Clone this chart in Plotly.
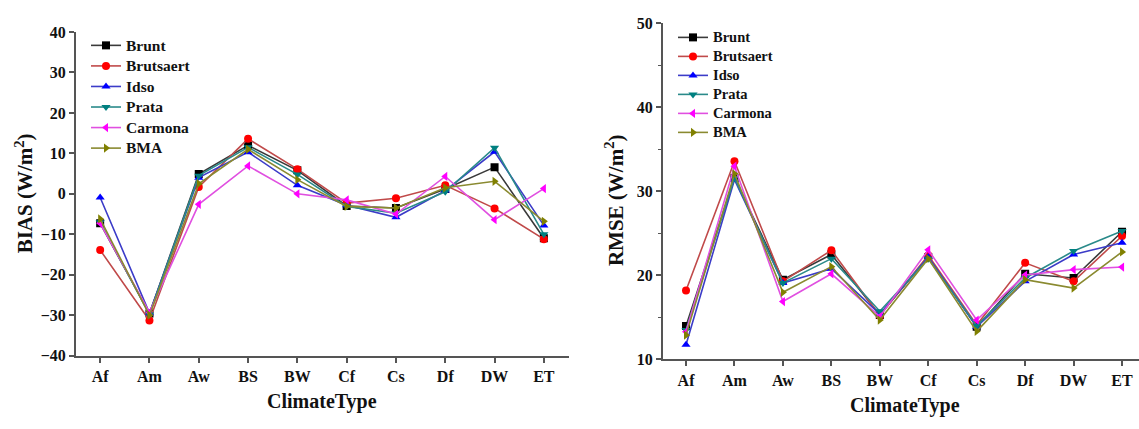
import plotly.graph_objects as go

categories = ["Af", "Am", "Aw", "BS", "BW", "Cf", "Cs", "Df", "DW", "ET"]
series_names = ["Brunt", "Brutsaert", "Idso", "Prata", "Carmona", "BMA"]

bias_brunt = [-7.3, -29.6, 4.9, 12.0, 5.8, -3.0, -3.5, 1.2, 6.6, -11.0]
bias_brutsaert = [-13.9, -31.3, 1.7, 13.6, 6.1, -2.3, -1.1, 2.1, -3.6, -11.2]
bias_idso = [-0.9, -29.5, 4.0, 10.3, 2.1, -2.8, -5.8, 0.8, 10.4, -7.8]
bias_prata = [-7.0, -29.8, 4.5, 11.5, 4.8, -3.1, -4.8, 0.5, 11.4, -10.0]
bias_carmona = [-7.3, -29.3, -2.6, 6.9, 0.0, -1.5, -5.0, 4.3, -6.4, 1.3]
bias_bma = [-6.2, -30.0, 2.5, 11.0, 3.5, -3.1, -3.5, 1.5, 3.1, -6.8]

rmse_brunt = [14.0, 31.6, 19.5, 22.5, 15.3, 22.2, 13.9, 20.2, 19.7, 25.2]
rmse_brutsaert = [18.2, 33.6, 19.3, 23.0, 15.2, 22.4, 14.1, 21.5, 19.3, 24.7]
rmse_idso = [11.75, 31.4, 19.1, 20.8, 15.4, 22.2, 13.9, 19.3, 22.5, 23.9]
rmse_prata = [13.5, 31.6, 19.1, 22.0, 15.75, 22.0, 14.0, 19.7, 22.9, 25.3]
rmse_carmona = [13.3, 33.0, 16.9, 20.2, 15.1, 23.05, 14.7, 20.05, 20.7, 21.0]
rmse_bma = [12.9, 32.1, 18.0, 21.05, 14.7, 22.0, 13.35, 19.5, 18.5, 22.8]

bias_ticks = [-40, -30, -20, -10, 0, 10, 20, 30, 40]
rmse_ticks = [10, 20, 30, 40, 50]

bias_data = [bias_brunt, bias_brutsaert, bias_idso, bias_prata, bias_carmona, bias_bma]
rmse_data = [rmse_brunt, rmse_brutsaert, rmse_idso, rmse_prata, rmse_carmona, rmse_bma]

marker_colors = ["#000000", "#ff0000", "#0000ff", "#008080", "#ff00ff", "#808000"]
line_colors = ["#3a3a3a", "#c04a4a", "#3c3cc8", "#2a8a8a", "#e050e0", "#8a8a30"]
symbols = ["square", "circle", "triangle-up", "triangle-down", "triangle-left", "triangle-right"]

FONT = "Liberation Serif"
AX = "#555555"


def legend_label(name, px):
    return '<span style="font-size:%spx">%s</span>' % (px, name)


fig = go.Figure()
for i, name in enumerate(series_names):
    fig.add_trace(go.Scatter(
        x=list(range(len(categories))), y=bias_data[i], name=legend_label(name, 15.5),
        mode="lines+markers", xaxis="x", yaxis="y", legend="legend",
        line=dict(color=line_colors[i], width=1.6),
        marker=dict(color=marker_colors[i], symbol=symbols[i], size=8),
    ))
for i, name in enumerate(series_names):
    fig.add_trace(go.Scatter(
        x=list(range(len(categories))), y=rmse_data[i], name=legend_label(name, 14.5),
        mode="lines+markers", xaxis="x2", yaxis="y2", legend="legend2",
        line=dict(color=line_colors[i], width=1.6),
        marker=dict(color=marker_colors[i], symbol=symbols[i], size=8),
    ))

tickfont = dict(family=FONT, size=16, color="#111111", weight="bold")

xcommon = dict(
    tickmode="array", tickvals=list(range(len(categories))), ticktext=categories,
    showline=True, linecolor=AX, linewidth=2, ticks="outside", ticklen=5,
    tickwidth=1.5, tickcolor=AX, showgrid=False, zeroline=False, tickfont=tickfont,
)
ycommon = dict(
    tickmode="array", showline=True, linecolor=AX, linewidth=2, ticks="outside",
    ticklen=5, tickwidth=1.5, tickcolor=AX, showgrid=False, zeroline=False,
    tickfont=tickfont,
)

fig.update_layout(
    width=1139, height=429,
    margin=dict(l=0, r=0, t=0, b=0),
    paper_bgcolor="white", plot_bgcolor="white",
    xaxis=dict(domain=[76 / 1139, 569 / 1139], range=[-0.49, 9.51], anchor="y", **xcommon),
    yaxis=dict(domain=[1 - 362 / 429, 1 - 25 / 429], range=[-40, 40], anchor="x",
               tickvals=bias_ticks, **ycommon),
    xaxis2=dict(domain=[663 / 1139, 1.0], range=[-0.475, 9.35], anchor="y2", **xcommon),
    yaxis2=dict(domain=[1 - 366 / 429, 1 - 16 / 429], range=[10, 50], anchor="x2",
                tickvals=rmse_ticks,
                minor=dict(ticks="outside", ticklen=3, tickwidth=1.2, tickcolor=AX, dtick=5, tick0=10),
                **ycommon),
    legend=dict(x=86 / 1139, y=1 - 23 / 429, xanchor="left", yanchor="top",
                bgcolor="rgba(0,0,0,0)", borderwidth=0,
                font=dict(family=FONT, size=13.5, color="#111111", weight="bold")),
    legend2=dict(x=673 / 1139, y=1 - 15.5 / 429, xanchor="left", yanchor="top",
                 bgcolor="rgba(0,0,0,0)", borderwidth=0,
                 font=dict(family=FONT, size=12, color="#111111", weight="bold")),
    annotations=[
        dict(text="BIAS (W/m<sup>2</sup>)", x=24 / 1139, y=1 - 193 / 429, xref="paper", yref="paper",
             textangle=-90, showarrow=False, xanchor="center", yanchor="middle",
             font=dict(family=FONT, size=21, color="#111111", weight="bold")),
        dict(text="RMSE (W/m<sup>2</sup>)", x=614 / 1139, y=1 - 200 / 429, xref="paper", yref="paper",
             textangle=-90, showarrow=False, xanchor="center", yanchor="middle",
             font=dict(family=FONT, size=21, color="#111111", weight="bold")),
        dict(text="ClimateType", x=322 / 1139, y=1 - 410 / 429, xref="paper", yref="paper",
             showarrow=False, xanchor="center", yanchor="middle",
             font=dict(family=FONT, size=20, color="#111111", weight="bold")),
        dict(text="ClimateType", x=905 / 1139, y=1 - 414 / 429, xref="paper", yref="paper",
             showarrow=False, xanchor="center", yanchor="middle",
             font=dict(family=FONT, size=20, color="#111111", weight="bold")),
    ],
)

fig.write_html("out.html")
